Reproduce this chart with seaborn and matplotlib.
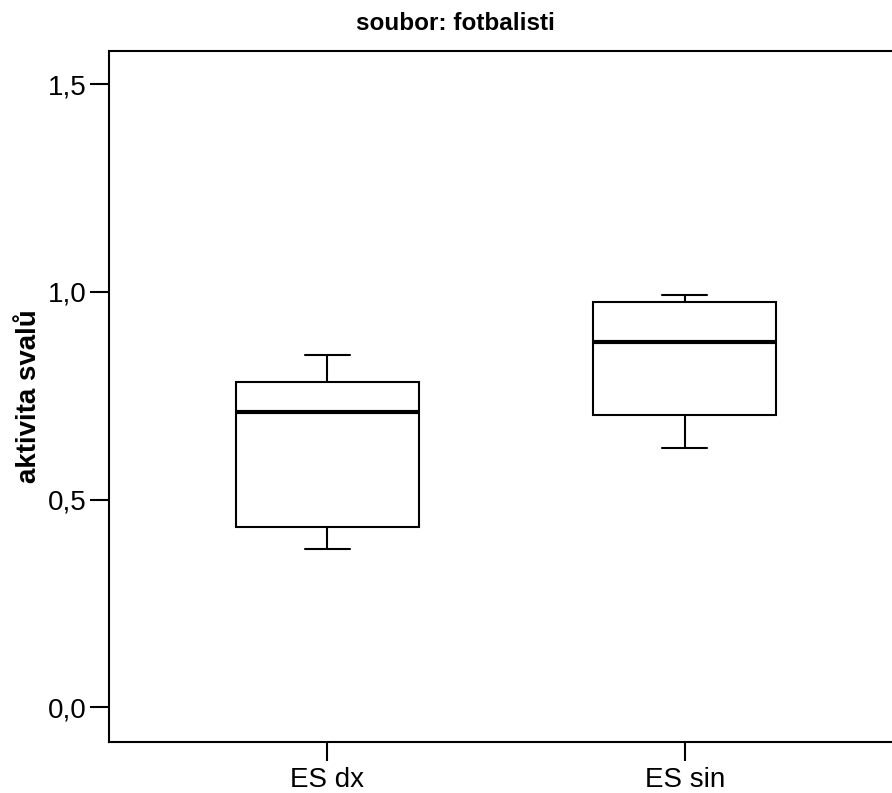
import numpy as np
import pandas as pd
import seaborn as sns
import matplotlib
matplotlib.use("Agg")
import matplotlib.pyplot as plt
from matplotlib.ticker import FuncFormatter

# data: five values per group -> min, Q1, median, Q3, max
categories = ["ES dx", "ES sin"]
es_dx = [0.382, 0.434, 0.711, 0.782, 0.848]
es_sin = [0.624, 0.704, 0.880, 0.975, 0.992]
title = "soubor: fotbalisti"
ylabel = "aktivita svalů"
yticks = [0.0, 0.5, 1.0, 1.5]

df = pd.DataFrame({
    "group": [categories[0]] * len(es_dx) + [categories[1]] * len(es_sin),
    "value": es_dx + es_sin,
})

sns.set_theme(style="white")
plt.rcParams["font.family"] = ["Liberation Sans", "DejaVu Sans"]
plt.rcParams["text.color"] = "black"
plt.rcParams["axes.labelcolor"] = "black"

fig = plt.figure(figsize=(8.92, 7.93), dpi=100)
ax = fig.add_axes([108.7 / 892, (793 - 741.7) / 793, (903.3 - 108.7) / 892, (741.7 - 51) / 793])

sns.boxplot(data=df, x="group", y="value", order=categories, ax=ax,
            color="white", linecolor="black", linewidth=1.5, width=0.513,
            whis=1.5, fill=True,
            boxprops=dict(facecolor="white", edgecolor="black", linewidth=1.5),
            medianprops=dict(color="black", linewidth=3),
            whiskerprops=dict(color="black", linewidth=1.5),
            capprops=dict(color="black", linewidth=1.5))

# shorten whisker caps to SPSS style
for ln in ax.lines:
    xd = np.asarray(ln.get_xdata(), dtype=float)
    yd = np.asarray(ln.get_ydata(), dtype=float)
    if len(xd) == 2 and np.isclose(yd[0], yd[1]):
        span = abs(xd[1] - xd[0])
        if span < 0.4:
            c = xd.mean()
            ln.set_xdata([c - 0.063, c + 0.063])

ax.set_xlim(-0.612, 1.612)
ax.set_ylim(-0.0827, 1.580)
ax.set_yticks(yticks)
ax.yaxis.set_major_formatter(FuncFormatter(lambda v, p: f"{v:.1f}".replace(".", ",")))
ax.set_xlabel("")
ax.set_ylabel(ylabel, fontsize=20, fontweight="bold", va="center", color="black")
ax.yaxis.set_label_coords(-0.100, 0.50)

for s in ax.spines.values():
    s.set_color("black")
    s.set_linewidth(1.5)
ax.tick_params(axis="both", which="major", direction="out", length=14, width=1.5,
               color="black", labelsize=20, labelcolor="black", pad=2,
               left=True, bottom=True)
ax.tick_params(axis="x", pad=4)
ax.grid(False)

fig.text(0.511, 1 - 30 / 793, title, ha="center", va="baseline",
         fontsize=17.5, fontweight="bold", color="black")

fig.savefig("out.png", dpi=100, facecolor="white")
